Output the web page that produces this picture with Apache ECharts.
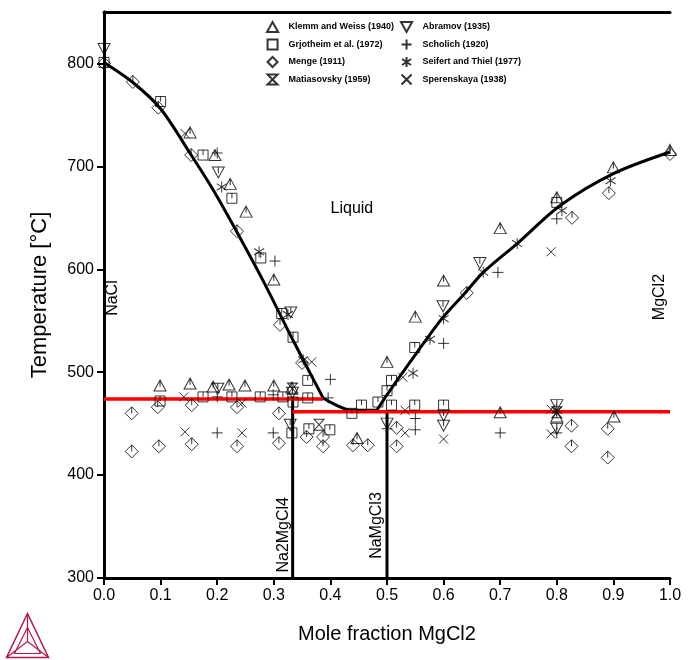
<!DOCTYPE html>
<html>
<head>
<meta charset="utf-8">
<script src="https://cdn.jsdelivr.net/npm/echarts@6/dist/echarts.min.js"></script>
<style>
html, body { margin: 0; padding: 0; background: #fff; }
#main { width: 688px; height: 660px; }
</style>
</head>
<body>
<div id="main"></div>
<script>
// liquidus and invariant lines [x MgCl2, T °C]
var liquidusNaCl = [[0, 801], [0.05, 782], [0.1, 756], [0.154, 711], [0.193, 677], [0.235, 636], [0.281, 589], [0.334, 531], [0.387, 475]];
var liquidusMid = [[0.387, 475], [0.438, 463], [0.482, 463]];
var liquidusMgCl2 = [[0.482, 463], [0.5, 478], [0.541, 510], [0.597, 552], [0.638, 577], [0.67, 597], [0.73, 625], [0.806, 662], [0.9, 693], [1.0, 714]];
var peritecticLine = [[0, 474], [0.387, 474]];
var eutecticLine = [[0.333, 461.5], [1, 461.5]];
var na2mgcl4Line = [[0.3333, 300], [0.3333, 474]];
var namgcl3Line = [[0.5, 300], [0.5, 461.5]];

// experimental points
var klemm = [[0.152, 733], [0.196, 711], [0.223, 683], [0.251, 656], [0.3, 590], [0.099, 487], [0.152, 489], [0.193, 486], [0.221, 488], [0.249, 487], [0.3, 487], [0.332, 485], [0.447, 436], [0.5, 510], [0.55, 554], [0.6, 589], [0.7, 640], [0.8, 670], [0.9, 699], [1.0, 716], [0.7, 461], [0.8, 457], [0.901, 457]];
var grjotheim = [[0, 801], [0.1, 763], [0.175, 711], [0.226, 669], [0.277, 611], [0.314, 557], [0.334, 534], [0.36, 492], [0.099, 472], [0.175, 476], [0.226, 476], [0.276, 476], [0.316, 476], [0.36, 475], [0.334, 471], [0.332, 441], [0.362, 445], [0.399, 444], [0.438, 460], [0.455, 468], [0.484, 471], [0.508, 468], [0.549, 468], [0.6, 468], [0.5, 482], [0.508, 492], [0.549, 524], [0.8, 665]];
var menge = [[0, 800], [0.051, 782], [0.096, 757], [0.154, 711], [0.235, 637], [0.311, 546], [0.35, 509], [0.049, 460], [0.095, 466], [0.155, 468], [0.235, 466], [0.309, 460], [0.049, 423], [0.097, 428], [0.155, 430], [0.235, 428], [0.309, 431], [0.358, 437], [0.387, 437], [0.387, 428], [0.44, 429], [0.466, 429], [0.517, 446], [0.517, 428], [0.641, 577], [0.827, 650], [0.892, 674], [0.826, 448], [0.826, 428], [0.89, 445], [0.89, 417], [1.0, 712]];
var matiasovsky = [[0.333, 484], [0.38, 449], [0.8, 461]];
var abramov = [[0, 814], [0.202, 694], [0.33, 558], [0.201, 484], [0.333, 480], [0.329, 449], [0.5, 450], [0.6, 458], [0.6, 448], [0.599, 564], [0.664, 606], [0.8, 468], [0.8, 445]];
var scholich = [[0.2, 713], [0.302, 608], [0.4, 493], [0.396, 475], [0.2, 476], [0.299, 478], [0.2, 441], [0.299, 441], [0.55, 455], [0.55, 444], [0.6, 528], [0.696, 597], [0.8, 649], [0.7, 441], [0.8, 441], [0.5, 445]];
var seifert = [[0.208, 680], [0.274, 617], [0.325, 556], [0.352, 512], [0.546, 499], [0.576, 532], [0.6, 552], [0.67, 597], [0.73, 625], [0.809, 657], [0.895, 686], [0.8, 463]];
var sperenskaya = [[0.143, 732], [0.367, 510], [0.141, 476], [0.244, 470], [0.143, 442], [0.244, 441], [0.528, 495], [0.532, 463], [0.532, 441], [0.6, 435], [0.79, 617], [0.79, 464], [0.79, 440]];

var yTicks = [300, 400, 500, 600, 700, 800];

// marker shapes (Thermo-Calc style hollow symbols)
var sym = {
  tri: 'path://M0,-10 L10,8 L-10,8 Z M0,-10 L0,1',
  triL: 'path://M0,-10 L10,8 L-10,8 Z',
  sq: 'path://M-10,-10 L10,-10 L10,10 L-10,10 Z M0,-10 L0,0',
  sqL: 'path://M-10,-10 L10,-10 L10,10 L-10,10 Z',
  dia: 'path://M0,-10 L10,0 L0,10 L-10,0 Z M0,-10 L0,0',
  diaL: 'path://M0,-10 L10,0 L0,10 L-10,0 Z',
  hour: 'path://M-10,-10 L10,-10 L-10,10 L10,10 Z',
  inv: 'path://M-10,-8 L10,-8 L0,10 Z M0,-8 L0,2',
  invL: 'path://M-10,-8 L10,-8 L0,10 Z',
  plus: 'path://M-10,0 L10,0 M0,-10 L0,10',
  ast: 'path://M0,-10 L0,10 M-9,-6 L9,6 M-9,6 L9,-6',
  cross: 'path://M-10,-10 L10,10 M-10,10 L10,-10'
};

var font = 'Liberation Sans, Arial, sans-serif';
var hollow = { color: 'rgba(0,0,0,0)', borderColor: '#000', borderWidth: 1 };

function pts(name, data, symbol, size) {
  return {
    name: name, type: 'scatter', data: data, symbol: symbol, symbolSize: size,
    itemStyle: hollow, z: 4, silent: true
  };
}
function line(data, color, width, smooth) {
  return {
    type: 'line', data: data, showSymbol: false, smooth: smooth || false,
    lineStyle: { color: color, width: width }, z: 3, silent: true
  };
}
var legendText = { fontFamily: font, fontWeight: 'bold', fontSize: 9, color: '#000', padding: [0, 0, 0, 5] };

var chart = echarts.init(document.getElementById('main'));
chart.setOption({
  animation: false,
  backgroundColor: '#fff',
  grid: { left: 104, right: 18, top: 12, bottom: 82 },
  legend: [{
    orient: 'vertical', left: 266, top: 21, padding: 0, itemGap: 5.5, itemWidth: 12, itemHeight: 10,
    textStyle: legendText,
    data: [
      { name: 'Klemm and Weiss (1940)', icon: sym.triL },
      { name: 'Grjotheim et al. (1972)', icon: sym.sqL },
      { name: 'Menge (1911)', icon: sym.diaL },
      { name: 'Matiasovsky (1959)', icon: sym.hour }
    ]
  }, {
    orient: 'vertical', left: 400, top: 21, padding: 0, itemGap: 5.5, itemWidth: 12, itemHeight: 10,
    textStyle: legendText,
    data: [
      { name: 'Abramov (1935)', icon: sym.invL },
      { name: 'Scholich (1920)', icon: sym.plus },
      { name: 'Seifert and Thiel (1977)', icon: sym.ast },
      { name: 'Sperenskaya (1938)', icon: sym.cross }
    ]
  }],
  xAxis: [{
    type: 'value', min: 0, max: 1, interval: 0.1,
    name: 'Mole fraction MgCl2', nameLocation: 'middle', nameGap: 46,
    nameTextStyle: { fontFamily: font, fontSize: 20, color: '#000' },
    axisLine: { lineStyle: { color: '#000', width: 3 } },
    axisTick: { show: true, length: 7, lineStyle: { color: '#000', width: 2 } },
    axisLabel: { fontFamily: font, fontSize: 16, color: '#000', margin: 10,
      formatter: function (v) { return v.toFixed(1); } },
    splitLine: { show: false }
  }, {
    type: 'value', position: 'top', min: 0, max: 1,
    axisLine: { show: true, lineStyle: { color: '#000', width: 3 } },
    axisTick: { show: false }, axisLabel: { show: false }, splitLine: { show: false }
  }],
  yAxis: [{
    type: 'value', min: 300, max: 850, interval: 100,
    name: 'Temperature [°C]', nameLocation: 'middle', nameGap: 53, nameRotate: 90,
    nameTextStyle: { fontFamily: font, fontSize: 22, color: '#000' },
    axisLine: { show: true, lineStyle: { color: '#000', width: 3 } },
    axisTick: { show: true, length: 7, customValues: yTicks, lineStyle: { color: '#000', width: 2 } },
    axisLabel: { fontFamily: font, fontSize: 16, color: '#000', margin: 10, customValues: yTicks },
    splitLine: { show: false }
  }, {
    type: 'value', position: 'right', min: 300, max: 850,
    axisLine: { show: true, lineStyle: { color: '#000', width: 3 } },
    axisTick: { show: false }, axisLabel: { show: false }, splitLine: { show: false }
  }],
  series: [
    line(liquidusNaCl, '#000', 3, 0.3),
    line(liquidusMid, '#000', 3, 0.3),
    line(liquidusMgCl2, '#000', 3, 0.3),
    line(na2mgcl4Line, '#000', 3),
    line(namgcl3Line, '#000', 3),
    line(peritecticLine, '#ff0000', 3.5),
    line(eutecticLine, '#ff0000', 3.5),
    pts('Klemm and Weiss (1940)', klemm, sym.tri, [12, 11]),
    pts('Grjotheim et al. (1972)', grjotheim, sym.sq, [10, 10]),
    pts('Menge (1911)', menge, sym.dia, [13, 13]),
    pts('Matiasovsky (1959)', matiasovsky, sym.hour, [10, 11]),
    pts('Abramov (1935)', abramov, sym.inv, [12, 11]),
    pts('Scholich (1920)', scholich, sym.plus, [11, 11]),
    pts('Seifert and Thiel (1977)', seifert, sym.ast, [10, 11]),
    pts('Sperenskaya (1938)', sperenskaya, sym.cross, [9, 9])
  ]
});

// phase and compound labels placed in data coordinates
var labels = [
  { text: 'Liquid', at: [0.438, 659], rot: 0 },
  { text: 'NaCl', at: [0.016, 572], rot: Math.PI / 2 },
  { text: 'MgCl2', at: [0.982, 573], rot: Math.PI / 2 },
  { text: 'Na2MgCl4', at: [0.318, 342], rot: Math.PI / 2 },
  { text: 'NaMgCl3', at: [0.482, 351], rot: Math.PI / 2 }
];
var graphics = labels.map(function (l) {
  var p = chart.convertToPixel({ xAxisIndex: 0, yAxisIndex: 0 }, l.at);
  return {
    type: 'text', x: p[0], y: p[1], rotation: l.rot, z: 10,
    style: { text: l.text, fontFamily: font, fontSize: 16, fill: '#000', align: 'center', verticalAlign: 'middle' }
  };
});
// Thermo-Calc logo
var logo = '#b5174b';
graphics.push({
  type: 'group', left: 4, top: 611,
  children: [
    { type: 'polygon', shape: { points: [[21, 0], [0, 44], [42, 44]] }, style: { fill: 'none', stroke: logo, lineWidth: 1.5 } },
    { type: 'polyline', shape: { points: [[21, 0], [21, 28], [0, 44]] }, style: { fill: 'none', stroke: logo, lineWidth: 1.2 } },
    { type: 'polyline', shape: { points: [[21, 28], [42, 44]] }, style: { fill: 'none', stroke: logo, lineWidth: 1.2 } },
    { type: 'polygon', shape: { points: [[21, 14], [8, 40], [34, 40]] }, style: { fill: 'none', stroke: logo, lineWidth: 1.2 } }
  ]
});
chart.setOption({ graphic: graphics });
</script>
</body>
</html>
